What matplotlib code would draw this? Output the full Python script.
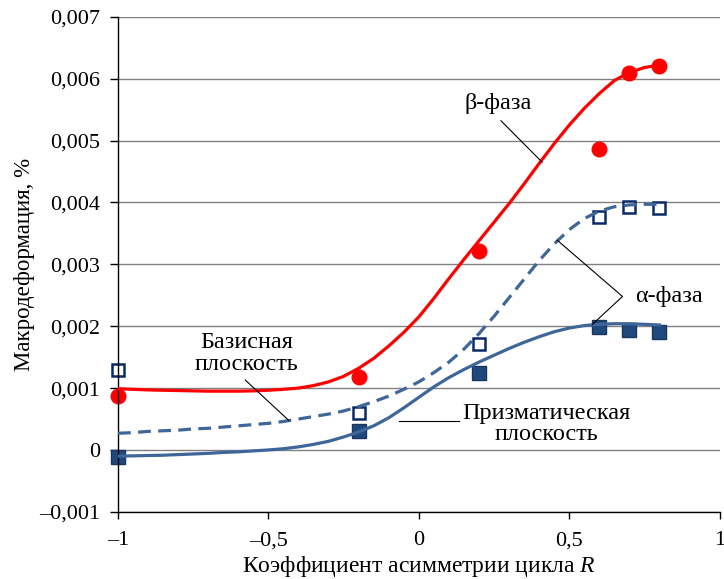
import numpy as np
import matplotlib.pyplot as plt
from matplotlib.ticker import FuncFormatter, MultipleLocator

plt.rcParams['font.family'] = ['Liberation Serif', 'DejaVu Serif']
plt.rcParams['mathtext.fontset'] = 'custom'
plt.rcParams['mathtext.rm'] = 'Liberation Serif'
plt.rcParams['mathtext.it'] = 'Liberation Serif:italic'

# measured points, macro-strain in %
R_pts = [-1.0, -0.2, 0.2, 0.6, 0.7, 0.8]
beta_pts = [0.00087, 0.00118, 0.00321, 0.00486, 0.00609, 0.00621]
basal_pts = [0.00130, 0.00060, 0.00171, 0.00376, 0.00392, 0.00391]
prism_pts = [-0.00011, 0.00031, 0.00125, 0.00199, 0.00194, 0.00191]

# trend lines, read every 0.05 in R (values in 1e-3 %)
R_fit = [-1.0, -0.95, -0.9, -0.85, -0.8, -0.75, -0.7, -0.65, -0.6, -0.55,
         -0.5, -0.45, -0.4, -0.35, -0.3, -0.25, -0.2, -0.15, -0.1, -0.05,
         0.0, 0.05, 0.1, 0.15, 0.2, 0.25, 0.3, 0.35, 0.4, 0.45,
         0.5, 0.55, 0.6, 0.65, 0.7, 0.75, 0.8]
beta_fit = [0.99, 0.98, 0.97, 0.965, 0.96, 0.955, 0.95, 0.95, 0.95, 0.955,
            0.965, 0.98, 1.00, 1.04, 1.10, 1.19, 1.32, 1.48, 1.68, 1.90,
            2.15, 2.45, 2.77, 3.08, 3.38, 3.68, 3.98, 4.30, 4.63, 4.95,
            5.25, 5.52, 5.76, 5.97, 6.10, 6.18, 6.22]
basal_fit = [0.27, 0.28, 0.30, 0.31, 0.32, 0.34, 0.35, 0.37, 0.39, 0.41,
             0.43, 0.46, 0.50, 0.54, 0.58, 0.63, 0.70, 0.78, 0.87, 0.98,
             1.10, 1.25, 1.42, 1.63, 1.88, 2.16, 2.46, 2.76, 3.06, 3.33,
             3.56, 3.74, 3.86, 3.93, 3.96, 3.97, 3.97]
prism_fit = [-0.10, -0.095, -0.09, -0.085, -0.075, -0.065, -0.055, -0.04, -0.03, -0.015,
             0.0, 0.02, 0.05, 0.09, 0.14, 0.21, 0.29, 0.39, 0.52, 0.68,
             0.85, 1.02, 1.17, 1.30, 1.42, 1.53, 1.64, 1.74, 1.83, 1.91,
             1.97, 2.01, 2.03, 2.04, 2.04, 2.03, 2.02]

red = '#FF0000'
steel = '#3E6698'
fs = 17.5


def comma_fmt(v, pos):
    if abs(v) < 1e-12:
        return '0'
    s = ('%.3f' % v) if abs(v) < 0.1 else ('%g' % v)
    return s.replace('-', '\u2013').replace('.', ',')


fig = plt.figure(figsize=(7.24, 5.79), dpi=100)
ax = fig.add_axes([0.163, 0.116, 0.831, 0.855])

ax.plot(R_fit, np.array(beta_fit) * 1e-3, color=red, lw=2.3, zorder=3)
ax.plot(R_fit, np.array(basal_fit) * 1e-3, color=steel, lw=2.3, ls=(0, (4, 2.3)), zorder=3)
ax.plot(R_fit, np.array(prism_fit) * 1e-3, color=steel, lw=2.3, zorder=3)

ax.plot(R_pts, beta_pts, 'o', color=red, ms=10.5, mec=red, zorder=2, clip_on=False)
ax.plot(R_pts, basal_pts, 's', mfc='white', mec='#0A2A66', mew=1.8, ms=9, zorder=2, clip_on=False)
ax.plot(R_pts, prism_pts, 's', mfc='#1F497D', mec='#17375E', mew=1.0, ms=9.5, zorder=2, clip_on=False)

ax.set_xlim(-1, 1)
ax.set_ylim(-0.001, 0.007)
ax.xaxis.set_major_locator(MultipleLocator(0.5))
ax.yaxis.set_major_locator(MultipleLocator(0.001))
ax.xaxis.set_major_formatter(FuncFormatter(comma_fmt))
ax.yaxis.set_major_formatter(FuncFormatter(comma_fmt))
ax.tick_params(axis='both', direction='out', labelsize=16, width=1, color='black')
ax.tick_params(axis='x', length=5, pad=9)
ax.tick_params(axis='y', length=6, pad=7)

ax.grid(axis='y', color='#808080', lw=1)
ax.set_axisbelow(True)
for side in ['top', 'right']:
    ax.spines[side].set_visible(False)
ax.spines['left'].set_linewidth(1)
ax.spines['bottom'].set_linewidth(1)

ax.set_xlabel('Коэффициент асимметрии цикла $R$', fontsize=17, labelpad=3)
ax.set_ylabel('Макродеформация, %', fontsize=16.5, labelpad=3)

# labels with leader lines
lead = dict(color='black', lw=0.8, zorder=4)
ax.text(0.265, 0.00560, 'β-фаза', fontsize=fs, ha='center', va='center')
ax.plot([0.273, 0.41], [0.00532, 0.00465], **lead)

ax.text(0.83, 0.00248, 'α-фаза', fontsize=fs, ha='center', va='center')
ax.plot([0.46, 0.677, 0.577], [0.00339, 0.00248, 0.00203], **lead)

ax.text(-0.573, 0.00156, 'Базисная\nплоскость', fontsize=fs, ha='center', va='center',
        linespacing=1.05)
ax.plot([-0.577, -0.433], [0.00113, 0.00048], **lead)

ax.text(0.423, 0.00042, 'Призматическая\nплоскость', fontsize=fs, ha='center', va='center',
        linespacing=1.05)
ax.plot([-0.067, 0.133], [0.00047, 0.00047], **lead)

fig.savefig('out.png', dpi=100)
